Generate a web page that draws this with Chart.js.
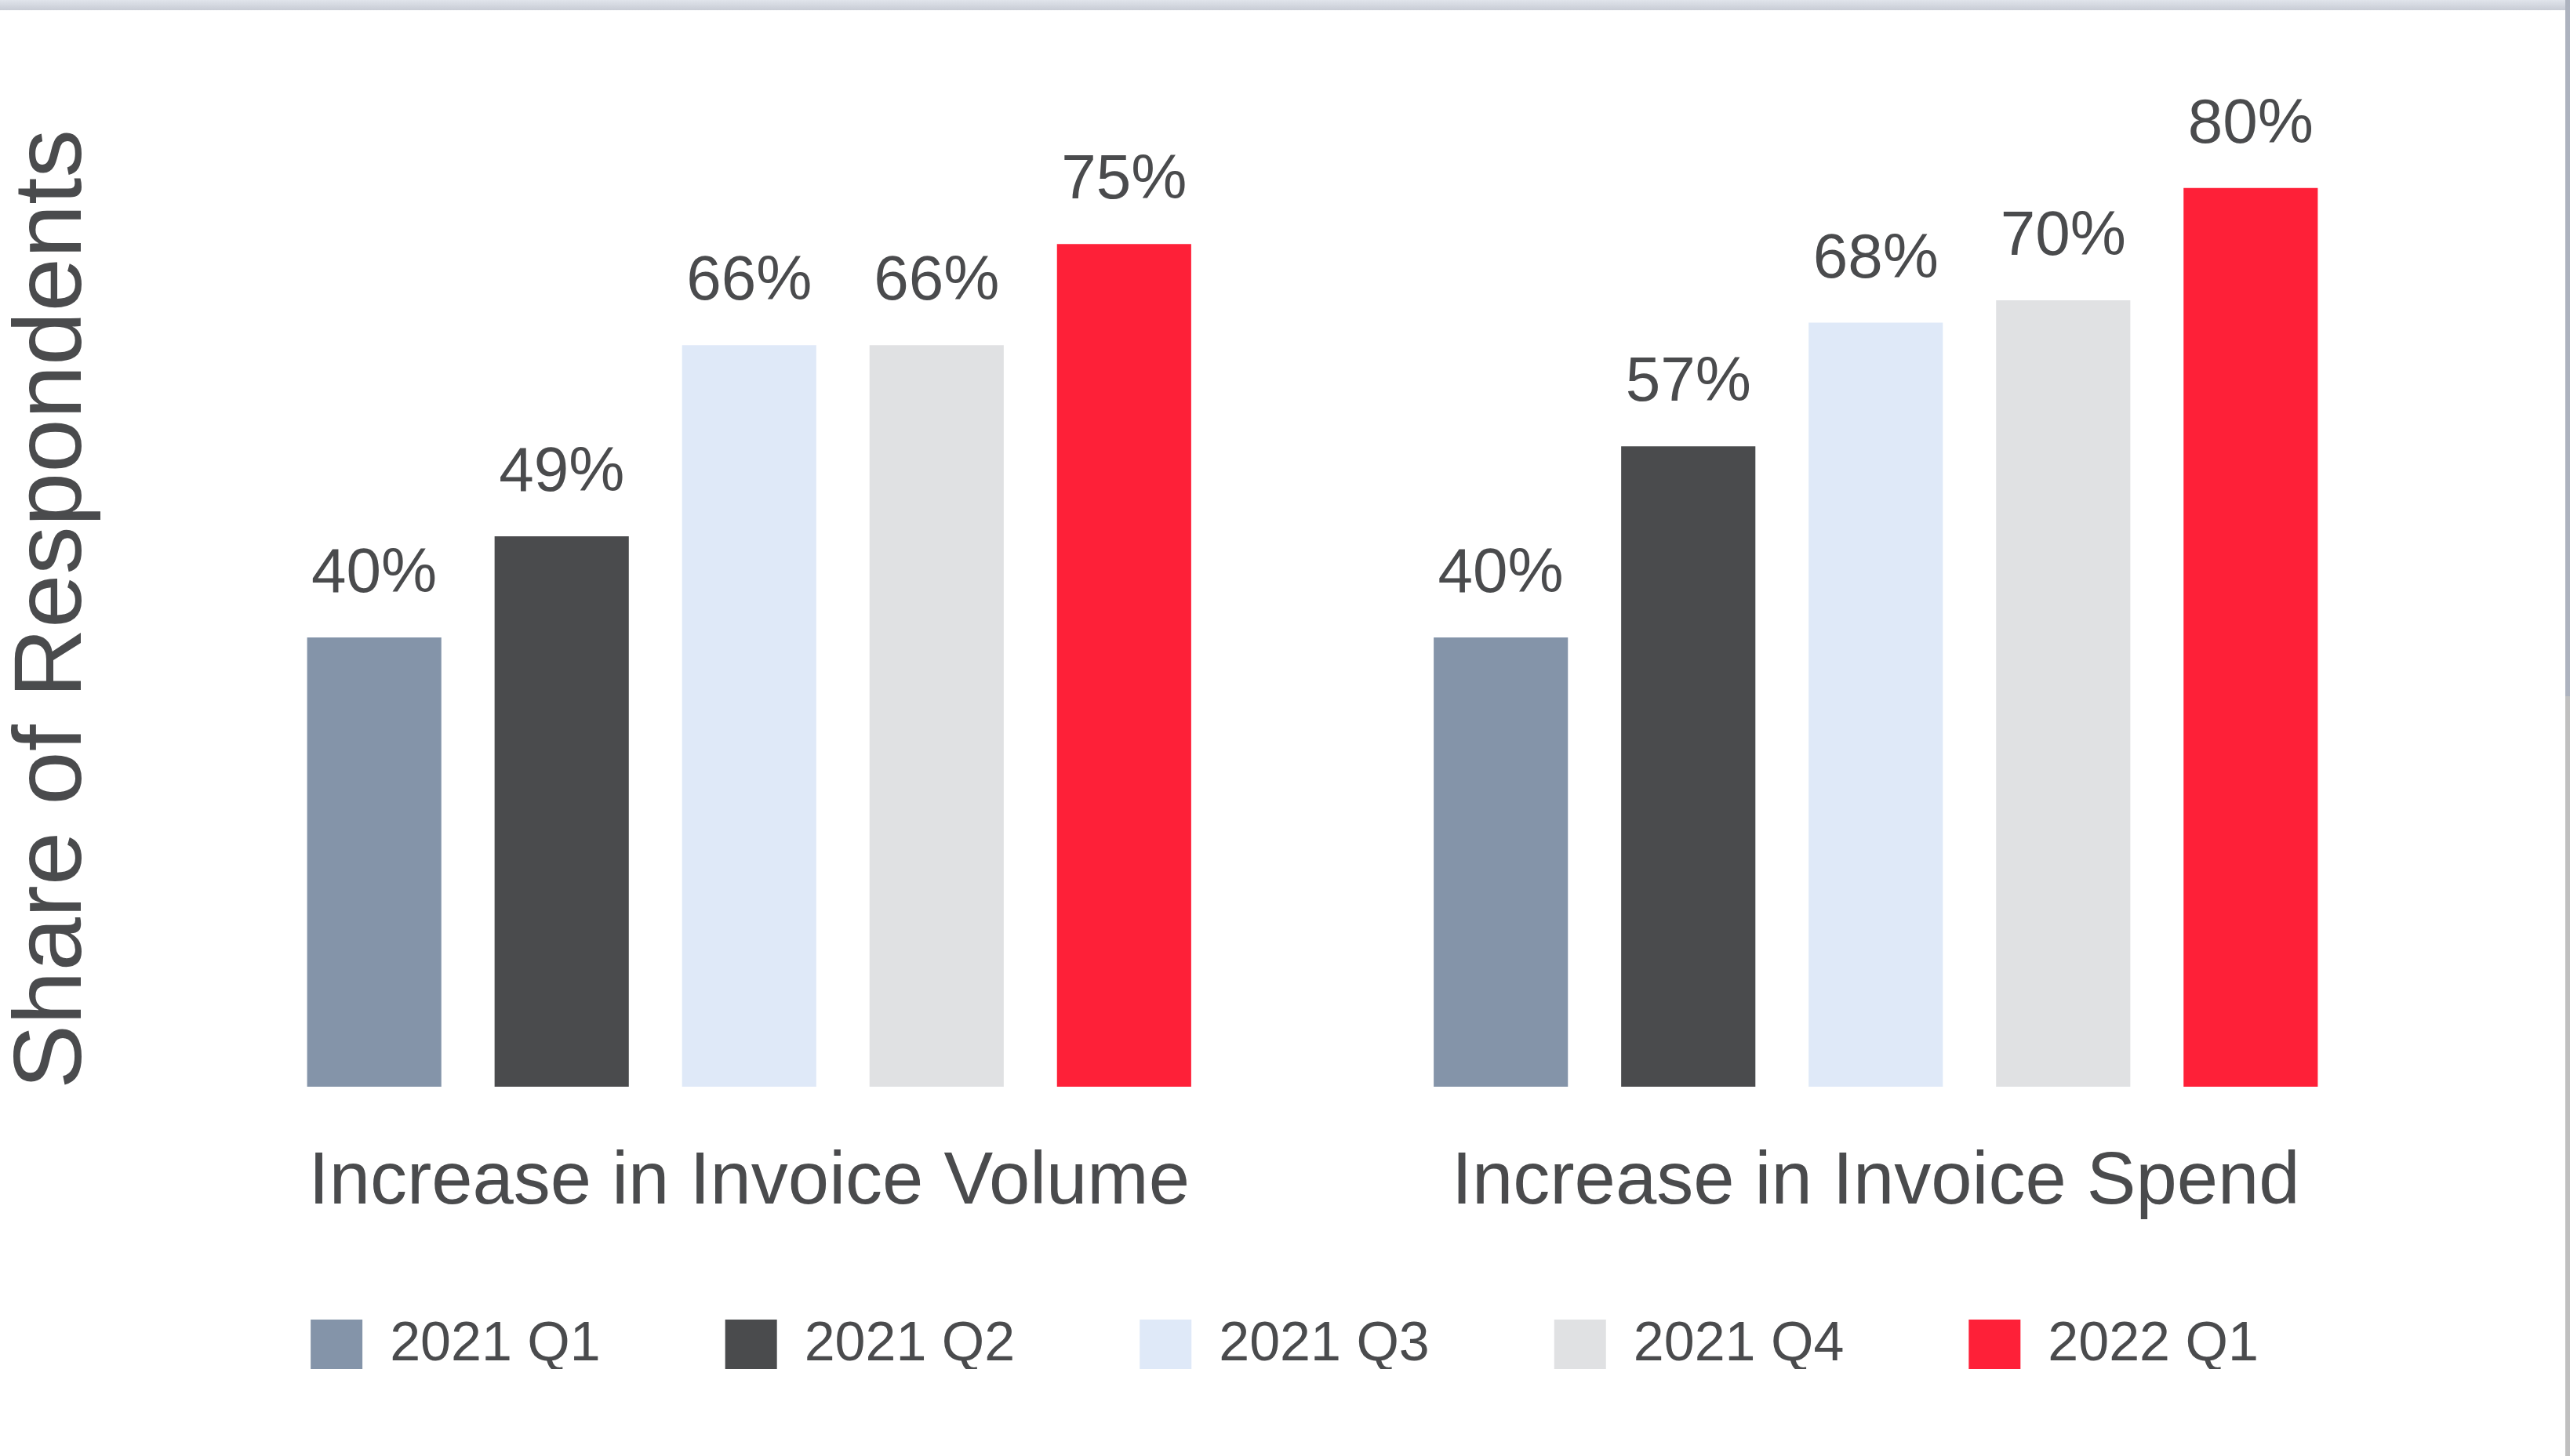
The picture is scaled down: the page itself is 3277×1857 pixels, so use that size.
<!DOCTYPE html>
<html><head><meta charset="utf-8">
<script src="https://cdn.jsdelivr.net/npm/chart.js@4.4.1/dist/chart.umd.min.js"></script>
<style>
html,body{margin:0;padding:0;background:#fff;overflow:hidden}
#wrap{position:relative;width:3277px;height:1857px}
canvas{position:absolute;left:0;top:0}
#topband{position:absolute;left:0;top:0;width:3277px;height:13px;background:linear-gradient(#e0e4eb,#c8ccd5)}
#rs1{position:absolute;left:3271px;top:0;width:6px;height:888px;background:#adb3bf}
#rs2{position:absolute;left:3271px;top:888px;width:6px;height:969px;background:#c0c0c0}
</style></head><body>
<div id="wrap"><canvas id="c" width="3277" height="1857"></canvas><div id="topband"></div><div id="rs1"></div><div id="rs2"></div></div>
<script>
const categories = ["Increase in Invoice Volume", "Increase in Invoice Spend"];
const seriesNames = ["2021 Q1", "2021 Q2", "2021 Q3", "2021 Q4", "2022 Q1"];
const q1_2021 = [40, 40];
const q2_2021 = [49, 57];
const q3_2021 = [66, 68];
const q4_2021 = [66, 70];
const q1_2022 = [75, 80];
const seriesColors = ["#8494a9", "#4a4b4d", "#dfe9f8", "#e0e1e3", "#fe2038"];
const yAxisTitle = "Share of Respondents";

const FONT = '"Liberation Sans", Arial, sans-serif';
const TEXT = '#4a4b4d';
const allSeries = [q1_2021, q2_2021, q3_2021, q4_2021, q1_2022];
const LEGEND_FONT = 70, LEGEND_PAD = 159;

const valueLabels = {
  id: 'valueLabels',
  afterDatasetsDraw(chart) {
    const ctx = chart.ctx;
    ctx.save();
    ctx.font = '80px ' + FONT;
    ctx.fillStyle = TEXT;
    ctx.textAlign = 'center';
    ctx.textBaseline = 'alphabetic';
    chart.data.datasets.forEach((ds, i) => {
      chart.getDatasetMeta(i).data.forEach((bar, j) => {
        ctx.fillText(ds.data[j] + '%', bar.x, bar.y - 58);
      });
    });
    ctx.restore();
  }
};

// move the legend row to sit between the category labels and the page bottom
const legendPlace = {
  id: 'legendPlace',
  afterLayout(chart) {
    const lg = chart.legend;
    if (!lg) return;
    const itemH = Math.max(LEGEND_FONT, 66);
    const dy = (1716 - itemH / 2 - LEGEND_PAD) - lg.top;
    const dx = 83;
    lg.top += dy; lg.bottom += dy;
    lg.left += dx; lg.right += dx;
  }
};

new Chart(document.getElementById('c'), {
  type: 'bar',
  data: {
    labels: categories,
    datasets: seriesNames.map((n, i) => ({
      label: n,
      data: allSeries[i],
      backgroundColor: seriesColors[i],
      borderWidth: 0,
      categoryPercentage: 0.832,
      barPercentage: 0.716
    }))
  },
  options: {
    responsive: false,
    animation: false,
    layout: { padding: { top: 168, right: 167, left: 0, bottom: 0 } },
    scales: {
      x: {
        grid: { display: false, drawTicks: false },
        border: { display: false },
        ticks: { color: TEXT, font: { size: 94, family: FONT, lineHeight: 0.35 }, padding: 107, maxRotation: 0, autoSkip: false }
      },
      y: {
        min: 0, max: 85,
        grid: { display: false, drawTicks: false },
        border: { display: false },
        ticks: { display: false },
        title: { display: true, text: yAxisTitle, color: TEXT, font: { size: 123, family: FONT, lineHeight: 1 }, padding: { top: 8, bottom: 106 } }
      }
    },
    plugins: {
      legend: {
        position: 'bottom',
        maxHeight: 224,
        labels: { boxWidth: 66, boxHeight: 66, padding: LEGEND_PAD, color: TEXT, font: { size: LEGEND_FONT, family: FONT } }
      },
      tooltip: { enabled: false }
    }
  },
  plugins: [valueLabels, legendPlace]
});
</script>
</body></html>
